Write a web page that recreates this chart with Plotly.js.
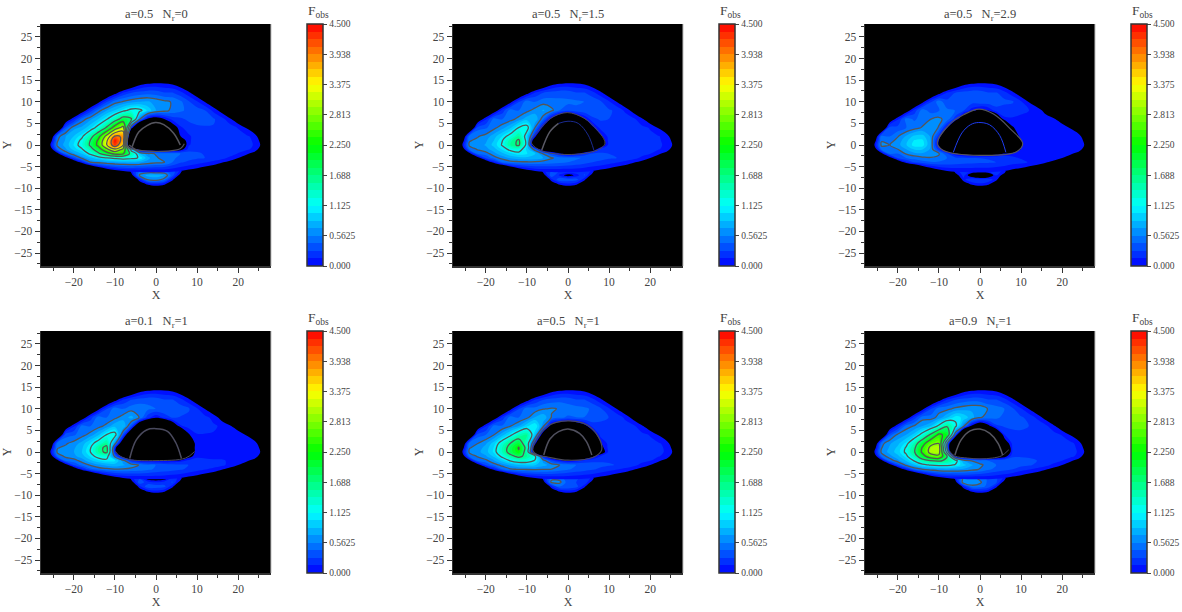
<!DOCTYPE html>
<html><head><meta charset="utf-8">
<script src="https://cdn.plot.ly/plotly-3.0.1.min.js"></script>
<style>html,body{margin:0;padding:0;background:#fff}#c{width:1182px;height:612px}</style>
</head><body><div id="c"></div>
<script>
const gridX=[-26,-24,-22,-20,-18,-16,-14,-12,-10,-8,-6,-4,-2,0,2,4,6,8,10,12,14,16,18,20,22,24,26];
const gridY=[16,14,12,10,8,6,4,2,1,0,-1,-2,-3,-4,-6,-8];
const lensX=[-8,-6,-4,-2,0,2,4,6,8];
const lensY=[-6,-7,-8,-9,-10];
// shared outer rim of the disk image, signed: negative = outside the image
const r16=[-1.2,-1.2,-1.2,-1.2,-1.2,-1.2,-1.2,-1.2,-1.2,-1,-.8,-.6,-.5,-.34,-.3,-.3,-.4,-.55,-.73,-.91,-1.1,-1.2,-1.2,-1.2,-1.2,-1.2,-1.2];
const r14=[-1.2,-1.2,-1.2,-1.2,-1.2,-1.2,-1.2,-.92,-.66,-.42,-.2,-.03,.04,.06,.04,0,-.1,-.25,-.43,-.6,-.8,-1,-1.2,-1.2,-1.2,-1.2,-1.2];
const r12=[-1.2,-1.2,-1.2,-1.2,-1.2,-1,-.66,-.33,-.06,.18,.3,.35,.38,.36,.3,.3,.2,.05,-.13,-.32,-.5,-.68,-.87,-1,-1.2,-1.2,-1.2];
const rm6=[-1.2,-1.2,-1.2,-1.2,-1.2,-1,-.5,-.23,-.08,0,.03,.04,.05,.05,.05,.03,0,-.05,-.09,-.15,-.21,-.29,-.36,-.45,-.55,-.68,-1];
const rm8=[-1.2,-1.2,-1.2,-1.2,-1.2,-1.2,-1,-.8,-.6,-.4,-.3,-.28,-.26,-.26,-.26,-.28,-.3,-.35,-.39,-.45,-.51,-.59,-.66,-.75,-.85,-.98,-1.2];
const L10=[-1.2,-1.2,-1.2,-1.08,-.76,-.4,-.06,.27,.5], R10=[.3,.16,-.015,-.2,-.38,-.57,-.75,-.9,-1.1,-1.2];
const L8=[-1.2,-1.2,-.84,-.48,-.16,.2,.5], R8=[.1,-.08,-.27,-.45,-.6,-.8,-1];
const L6=[-1.2,-.9,-.24,.12,.48], R6=[.03,-.15,-.3,-.5,-.85];
const L4=[-.9,-.5,.36], R4=[.13,-.015,-.2,-.55];
const L2=[-.5,.5], R2=[.09,-.22];
const L1=[-.25,.55], R1=[.12,-.1];
const L0=[-.1,.6], R0=[.13,-.06];
const Lm1=[-.3,.45], Rm1=[.1,-.15];
const Lm2=[-.6,-.1,.45], Rm2=[.03,-.08,-.35];
const Lm3=[-1,-.4,-.15,.3], Rm3=[0,-.1,-.22,-.5];
const Lm4=[-1.2,-.7,-.45,-.3,.1], Rm4=[.015,-.06,-.15,-.25,-.38,-.7];
const lm10=[-.8,-.8,-.45,-.22,-.15,-.22,-.45,-.8,-.8];

const midA=[[.58,.65,.7,.72,.66,.6,.55,.45],
[.7,.85,1.05,1.22,1.2,.95,.7,.62,.52,.45,.38,.35,.28],
[.66,.85,1.1,1.45,1.9,1.75,.6,-.08,-.175,0,.2,.25,.32,.33,.32,.3,.2],
[.66,.74,.95,1.25,1.75,2.5,3.0,.2,-1.1,-1.2,-1.2,-1,-.2,.12,.2,.26,.27,.27,.26,.22],
[.7,.85,1.08,1.5,2.1,3.0,4.0,3.9,-2,-1.2,-1.2,-1.2,-1.2,-1.2,0,.12,.2,.24,.25,.25,.23,.21,.17],
[.72,.95,1.2,1.7,2.35,3.3,4.45,3.7,-2.5,-1.2,-1.2,-1.2,-1.2,-1.2,-.2,.12,.2,.24,.25,.25,.23,.21,.18],
[.75,1.0,1.25,1.75,2.4,3.35,4.3,3.4,-2.5,-1.2,-1.2,-1.2,-1.2,-1.2,-.3,.13,.2,.24,.25,.25,.23,.21,.18],
[.68,.9,1.1,1.5,2.0,2.7,3.3,2.7,.9,-.25,-.25,-.25,-.25,-.25,-.1,.2,.25,.26,.26,.25,.23,.21,.17],
[.68,.85,1.2,1.6,2.0,2.4,2.3,1.5,.85,.6,.55,.5,.48,.42,.36,.3,.27,.26,.25,.22,.13],
[.62,.8,.95,1.12,1.2,1.25,1.2,1.1,.75,.58,.52,.45,.38,.33,.3,.28,.25,.2,.1],
[.55,.62,.68,.72,.75,.75,.72,.65,.6,.57,.42,.3,.25,.2,.15,.1]];
const lensA=[[-.5,.1,.4,.42,.42,.42,.38,.1,-.5],[-.5,-.12,.6,.75,.75,.7,.35,-.12,-.5],[-.6,-.4,.1,.6,.65,.5,.05,-.4,-.6],[-.8,-.6,-.15,.05,.12,.05,-.2,-.6,-.8],lm10];

const midB=[[.42,.5,.48,.45,.45,.45,.42,.38],
[.42,.52,.62,.72,.6,.42,.35,.38,.4,.38,.33,.3,.25],
[.42,.5,.62,.78,.82,.45,-.07,-.5,-1.05,-.38,-.02,.25,.3,.28,.26,.24,.17],
[.4,.52,.65,.82,1.14,1.25,.55,-.1,-1,-1.2,-1.2,-1.2,-1,-.05,.2,.22,.22,.22,.2,.18],
[.55,.62,.78,1.0,1.25,1.55,.95,.08,-1,-1.2,-1.2,-1.2,-1.2,-1.2,-1,-.05,.2,.21,.21,.2,.19,.17,.15],
[.6,.68,.85,1.12,1.5,1.75,1.0,-.5,-1.5,-1.2,-1.2,-1.2,-1.2,-1.2,-1,-.2,.2,.21,.21,.2,.19,.17,.15],
[.63,.72,.9,1.15,1.55,1.75,1.0,-.6,-1.5,-1.2,-1.2,-1.2,-1.2,-1.2,-1,-.2,.2,.21,.21,.2,.19,.17,.15],
[.58,.65,.78,1.0,1.2,1.25,.95,.45,-.3,-.5,-.8,-1,-.8,-.5,-.2,.2,.22,.22,.21,.2,.19,.17,.15],
[.5,.65,.8,.95,1.05,1.0,.85,.55,.3,.05,-.1,0,.2,.3,.3,.28,.26,.25,.23,.2,.15],
[.5,.62,.72,.78,.8,.78,.7,.58,.5,.48,.45,.4,.35,.33,.3,.28,.24,.2,.1],
[.42,.5,.52,.53,.53,.5,.48,.45,.42,.38,.33,.28,.25,.2,.15,.1]];
const lensB=[[-.5,.1,.3,.3,.3,.3,.25,.1,-.5],[-.5,-.12,.4,.1,-.1,.05,.3,-.12,-.5],[-.6,-.4,.1,.4,.38,.35,.05,-.4,-.6],[-.8,-.6,-.15,.05,.12,.05,-.2,-.6,-.8],lm10];

const midC=[[.32,.32,.33,.35,.38,.38,.36,.32],
[.36,.42,.45,.42,.3,.06,-.07,.01,.22,.2,.18,.16,.14],
[.4,.48,.56,.6,.5,.2,-.4,-1,-1,-1,-.4,.12,.13,.12,.11,.11,.1],
[.33,.42,.5,.58,.65,.55,.02,-1,-1.2,-1.2,-1.2,-1.2,-1.2,-1,-.02,.11,.1,.1,.1,.1],
[.42,.55,.72,.88,.9,.68,.2,-.8,-1.2,-1.2,-1.2,-1.2,-1.2,-1.2,-1.2,-.3,.1,.1,.1,.1,.1,.1,.1],
[.5,.62,.8,1.0,1.02,.7,-.03,-1,-1.2,-1.2,-1.2,-1.2,-1.2,-1.2,-1.2,-.9,-.01,.1,.1,.1,.1,.1,.1],
[.56,.65,.83,1.05,1.05,.7,-.05,-1,-1.2,-1.2,-1.2,-1.2,-1.2,-1.2,-1.2,-.9,-.03,.1,.1,.1,.1,.1,.1],
[.45,.56,.7,.85,.85,.68,.2,-.4,-.8,-.9,-1,-1,-1,-.9,-.8,-.5,.03,.1,.1,.1,.1,.1,.1],
[.42,.58,.66,.68,.65,.58,.3,.03,-.1,-.15,-.2,-.15,-.1,.03,.1,.1,.1,.1,.1,.1,.1],
[.42,.48,.53,.55,.53,.42,.32,.3,.28,.28,.27,.27,.25,.16,.13,.13,.12,.11,.08],
[.3,.36,.4,.4,.38,.35,.33,.32,.3,.3,.28,.25,.2,.18,.13,.08]];
const lensC=[[-.5,.1,.2,.2,.2,.2,.2,.1,-.5],[-.5,-.12,.2,-.2,-.4,-.25,.15,-.12,-.5],[-.6,-.4,.1,.28,.25,.25,.05,-.4,-.6],[-.8,-.6,-.15,.05,.12,.05,-.2,-.6,-.8],lm10];

const midD=[[.42,.5,.52,.46,.42,.42,.4,.35],
[.42,.52,.63,.75,.55,.2,.03,.18,.3,.27,.24,.22,.18],
[.42,.5,.62,.8,.85,.35,-.5,-.8,-1,-.8,-.3,.12,.2,.22,.2,.16,.12],
[.4,.5,.62,.82,1.14,1.25,.35,-.6,-1.2,-1.2,-1.2,-1.2,-1.2,-.8,-.02,.13,.13,.13,.13,.12],
[.54,.62,.76,1.0,1.3,1.55,.65,-.4,-1.2,-1.2,-1.2,-1.2,-1.2,-1.2,-1,-.3,.12,.12,.12,.12,.12,.12,.12],
[.6,.68,.82,1.1,1.55,1.8,.15,-1,-1.2,-1.2,-1.2,-1.2,-1.2,-1.2,-1.2,-.3,.12,.12,.12,.12,.12,.12,.12],
[.63,.7,.85,1.12,1.55,1.78,.12,-1,-1.2,-1.2,-1.2,-1.2,-1.2,-1.2,-1.2,-.3,.12,.12,.12,.12,.12,.12,.12],
[.6,.66,.78,1.0,1.25,1.25,.5,-.2,-.6,-.8,-1,-1,-1,-.8,-.7,-.1,.12,.12,.12,.12,.12,.12,.12],
[.5,.62,.8,.95,1.05,1.0,.65,.2,.02,-.02,-.03,-.02,.02,.08,.18,.18,.16,.15,.15,.13,.1],
[.48,.58,.68,.74,.78,.72,.65,.55,.45,.42,.38,.33,.3,.28,.27,.25,.22,.18,.09],
[.38,.48,.52,.55,.55,.52,.5,.45,.4,.36,.33,.3,.25,.2,.15,.1]];
const lensD=[[-.5,.1,.25,-.15,-.2,-.15,.2,.1,-.5],[-.5,-.12,.38,.2,.15,.2,.3,-.12,-.5],[-.6,-.4,.1,.38,.36,.33,.05,-.4,-.6],[-.8,-.6,-.15,.05,.12,.05,-.2,-.6,-.8],lm10];

const midE=[[.47,.55,.58,.55,.5,.48,.45,.4],
[.42,.52,.72,.8,.55,.45,.4,.42,.42,.38,.3,.28,.24],
[.44,.56,.7,.95,1.12,.6,-.18,-.37,-.6,-.34,-.1,.2,.26,.26,.24,.22,.17],
[.42,.56,.78,1.05,1.4,1.55,.85,-.3,-1.2,-1.2,-1.2,-1.2,-1.2,-.2,.22,.22,.2,.2,.2,.18],
[.56,.68,.92,1.3,1.7,2.0,1.35,.1,-1.2,-1.2,-1.2,-1.2,-1.2,-1.2,-1.2,-.02,.2,.2,.2,.2,.2,.18,.16],
[.62,.76,1.0,1.42,1.88,2.28,1.5,-.4,-1.5,-1.2,-1.2,-1.2,-1.2,-1.2,-1.2,-.1,.2,.2,.2,.2,.19,.18,.17],
[.66,.78,1.02,1.42,1.88,2.22,1.4,-.5,-1.5,-1.2,-1.2,-1.2,-1.2,-1.2,-1.2,-.2,.2,.2,.2,.19,.18,.17,.16],
[.58,.68,.88,1.2,1.55,1.8,1.55,1.2,.1,-.3,-.5,-.7,-.5,-.3,-.05,.17,.2,.2,.19,.18,.17,.16,.15],
[.52,.68,.9,1.15,1.3,1.28,1.1,.65,.3,.1,-.02,.08,.2,.25,.26,.26,.25,.23,.21,.19,.15],
[.5,.62,.74,.84,.88,.86,.75,.65,.56,.5,.42,.36,.33,.32,.3,.27,.24,.19,.09],
[.42,.54,.57,.58,.58,.57,.56,.5,.44,.38,.34,.3,.25,.2,.15,.1]];
const lensE=[[-.5,.1,.5,.5,.3,.3,.25,.1,-.5],[-.5,-.12,.62,.6,.35,.28,.28,-.12,-.5],[-.6,-.4,.1,.42,.4,.35,.05,-.4,-.6],[-.8,-.6,-.15,.05,.12,.05,-.2,-.6,-.8],lm10];

const midF=[[.52,.6,.65,.68,.68,.55,.48,.42],
[.48,.62,.82,1.05,.95,.75,.58,.5,.45,.38,.33,.3,.24],
[.58,.7,.85,1.2,1.65,1.2,.6,-.08,-.39,-.09,.25,.3,.32,.3,.28,.26,.18],
[.6,.7,.9,1.25,1.75,2.35,2.1,.35,-1.2,-1.2,-1.2,-1.2,-.5,.15,.22,.26,.27,.26,.25,.2],
[.68,.8,1.02,1.45,2.05,2.65,2.8,.55,-1.2,-1.2,-1.2,-1.2,-1.2,-1.2,-.2,.2,.24,.26,.26,.25,.24,.22,.18],
[.72,.88,1.15,1.6,2.3,2.95,3.05,.5,-1.5,-1.2,-1.2,-1.2,-1.2,-1.2,-.5,.2,.24,.26,.26,.25,.24,.22,.18],
[.75,.92,1.18,1.65,2.35,3.0,3.0,.9,-1.5,-1.2,-1.2,-1.2,-1.2,-1.2,-.5,.2,.24,.26,.26,.25,.24,.22,.18],
[.65,.8,1.05,1.45,2.05,2.55,2.7,1.7,-.1,-.35,-.4,-.45,-.4,-.3,-.1,.25,.27,.27,.26,.25,.24,.22,.18],
[.66,.85,1.15,1.5,1.7,1.75,1.6,1.25,.7,.55,.45,.42,.4,.4,.38,.33,.3,.28,.26,.22,.14],
[.62,.82,1.05,1.15,1.2,1.2,1.1,.9,.72,.6,.5,.42,.38,.36,.33,.3,.25,.2,.09],
[.45,.56,.64,.7,.72,.7,.68,.62,.55,.45,.38,.33,.28,.2,.15,.1]];
const lensF=[[-.5,.1,.6,.65,.5,.4,.3,.1,-.5],[-.5,-.12,.7,.7,.6,.38,.3,-.12,-.5],[-.6,-.4,.1,.5,.48,.38,.05,-.4,-.6],[-.8,-.6,-.15,.05,.12,.05,-.2,-.6,-.8],lm10];

const arcAX=[-5.8,-4.2,-2.2,-.1,1.9,4.3,5.9], arcAY=[-.4,3,4.5,5.2,4.7,2.7,0];
const arcBX=[-6.4,-4.4,-2.3], arcBY=[-1.2,3.1,5];
const arcBX2=[-2.3,0,2.5,4.9,6.3], arcBY2=[5,5.5,5,2.3,-1.2];
const arcCX=[-6.5,-4.4,-2.3,-.4,2.3,4.8,6.3], arcCY=[-1.7,2.8,4.7,5.2,4.7,2.2,-1.7];
const arcDX=[-6.4,-4.8,-2.3,0,2.8,4.8,6.2], arcDY=[-1.5,2.8,5.1,5.4,4.8,2.2,-1.5];
const arcEX=[-5.9,-4.4,-2.3,0,2.8,4.5,5.8], arcEY=[-.7,3,4.7,5.3,4.3,2.4,-.7];
const arcFX=[-6.1,-4.6,-2.4,0,2.4,4.4,5.5], arcFY=[-.7,2.8,4.9,5.3,4.3,2,-.7];

const holeAX=[-6.5,-5,-2,0,3,6,6.9], holeAY=[0,-1,-1.4,-1.5,-1.4,-.8,.3];
const holeBX=[-9,-7,-4.2,-.2,3.9,7.1,9,7.1,0,-6.8,-9], holeBY=[.8,3.5,6.2,7.5,6.2,3.5,.4,-1.2,-2.2,-1.2,.8];
const holeCX=[-10.4,-7.3,-4,-.3,3.4,7.5,10.4,9,0,-9,-10.4], holeCY=[.4,4.9,7,8.3,7.1,3.6,.4,-1.5,-2.4,-1.2,.4];
const holeDX=[-9.9,-9.1,-6.7,0,7.2,9.4], holeDY=[.2,-.7,-1.7,-2,-1.4,.1];
const holeEX=[-8.6,-6.9,-4.4,0,4.6,7.4,8.2,6.2,0,-5.2,-7.4,-8.6], holeEY=[.5,4,6.3,7.2,6.3,3.5,.5,-1.2,-1.9,-1.1,-.7,.5];
const holeFX=[-7.5,-6.2,-3,0,3,5.2,7], holeFY=[.3,-.9,-1.4,-1.6,-1.4,-.9,.5];

const cbarVals=[0,.5625,1.125,1.6875,2.25,2.8125,3.375,3.9375,4.5];
const cbarText=['0.000','0.5625','1.125','1.688','2.250','2.813','3.375','3.938','4.500'];
const panelTitles=['a=0.5 &nbsp; N<sub>r</sub>=0','a=0.5 &nbsp; N<sub>r</sub>=1.5','a=0.5 &nbsp; N<sub>r</sub>=2.9','a=0.1 &nbsp; N<sub>r</sub>=1','a=0.5 &nbsp; N<sub>r</sub>=1','a=0.9 &nbsp; N<sub>r</sub>=1'];

const W=1182,H=612,FONT='"Liberation Serif",serif',step=.140625;
function assemble(m){return [r16,r14,r12,[...L10,...m[0],...R10],[...L8,...m[1],...R8],[...L6,...m[2],...R6],[...L4,...m[3],...R4],[...L2,...m[4],...R2],[...L1,...m[5],...R1],[...L0,...m[6],...R0],[...Lm1,...m[7],...Rm1],[...Lm2,...m[8],...Rm2],[...Lm3,...m[9],...Rm3],[...Lm4,...m[10],...Rm4],rm6,rm8];}
const jetStops=[[0,[0,0,255]],[.25,[0,255,255]],[.5,[0,255,0]],[.75,[255,255,0]],[1,[255,0,0]]];
function jet(t){for(let i=1;i<jetStops.length;i++){if(t<=jetStops[i][0]){const a=jetStops[i-1],b=jetStops[i],f=(t-a[0])/(b[0]-a[0]);
 return 'rgb('+a[1].map((v,k)=>Math.round(v+(b[1][k]-v)*f)).join(',')+')';}}return 'rgb(255,0,0)';}
const fieldScale=[[0,'rgba(0,0,0,0)']];
for(let i=0;i<33;i++)fieldScale.push([(i+1)/33,jet(Math.min(1,(i+.5)/32))]);
const barScale=[];
for(let i=0;i<32;i++){const c=jet((i+.5)/32);barScale.push([i/32,c],[(i+1)/32,c]);}
const up=a=>a.slice().reverse();

const panels=[
 {z:assemble(midA),l:lensA,arcs:[[arcAX,arcAY,'#56565f',1.5]],hole:[holeAX,holeAY,'#50505a',1.2],c:0,r:0},
 {z:assemble(midB),l:lensB,arcs:[[arcBX,arcBY,'#5a5a66',1.5],[arcBX2,arcBY2,'#1a2a90',1]],hole:[holeBX,holeBY,'#4a4a5a',1],c:1,r:0},
 {z:assemble(midC),l:lensC,arcs:[[arcCX,arcCY,'#1e3cf0',1]],hole:[holeCX,holeCY,'#555560',1.2],c:2,r:0},
 {z:assemble(midD),l:lensD,arcs:[[arcDX,arcDY,'#4a4a5e',1.5]],hole:[holeDX,holeDY,'#4a4a5a',1],c:0,r:1},
 {z:assemble(midE),l:lensE,arcs:[[arcEX,arcEY,'#50505e',1.5]],hole:[holeEX,holeEY,'#4a4a5a',1.2],c:1,r:1},
 {z:assemble(midF),l:lensF,arcs:[[arcFX,arcFY,'#56565f',1.5]],hole:[holeFX,holeFY,'#4a4a5a',1],c:2,r:1}
];
const lefts=[41,453,865],tops=[24,331],pw=230,ph=242,cbLefts=[307,719,1131];
const traces=[],layout={width:W,height:H,margin:{l:0,r:0,t:0,b:0},paper_bgcolor:'#fff',plot_bgcolor:'#000',showlegend:false,annotations:[],shapes:[],font:{family:FONT,color:'#444',size:11}};
panels.forEach((p,i)=>{
 const n=i?i+1:'',xa='x'+n,ya='y'+n,L=lefts[p.c],T=tops[p.r];
 const fill=(x,y,z)=>({type:'contour',x:x,y:up(y),z:up(z),xaxis:xa,yaxis:ya,autocontour:false,autocolorscale:false,colorscale:fieldScale,showscale:false,hoverinfo:'skip',
   contours:{coloring:'fill',showlines:false,start:0,end:4.5,size:step},line:{width:0,smoothing:1}});
 const iso=(x,y,z)=>({type:'contour',x:x,y:up(y),z:up(z),xaxis:xa,yaxis:ya,autocontour:false,showscale:false,hoverinfo:'skip',
   contours:{coloring:'none',showlines:true,start:.5625,end:3.9375,size:.5625},line:{color:'#565656',width:1.3,smoothing:1}});
 traces.push(fill(lensX,lensY,p.l),iso(lensX,lensY,p.l),fill(gridX,gridY,p.z),iso(gridX,gridY,p.z));
 p.arcs.forEach(a=>traces.push({type:'scatter',mode:'lines',x:a[0],y:a[1],xaxis:xa,yaxis:ya,hoverinfo:'skip',line:{color:a[2],width:a[3],shape:'spline',smoothing:1}}));
 traces.push({type:'scatter',mode:'lines',x:p.hole[0],y:p.hole[1],xaxis:xa,yaxis:ya,hoverinfo:'skip',line:{color:p.hole[2],width:p.hole[3],shape:'spline',smoothing:1}});
 traces.push({type:'heatmap',x:[100,101],y:[100,101],z:[[0,4.5],[0,4.5]],xaxis:xa,yaxis:ya,zmin:0,zmax:4.5,colorscale:barScale,hoverinfo:'skip',
   colorbar:{x:cbLefts[p.c]/W,xanchor:'left',y:1-T/H,yanchor:'top',lenmode:'pixels',len:ph,thicknessmode:'pixels',thickness:16,xpad:0,ypad:0,outlinecolor:'#333',outlinewidth:1.5,
     tickmode:'array',tickvals:cbarVals,ticktext:cbarText,ticks:'outside',ticklen:4,tickwidth:1,tickcolor:'#444',tickfont:{family:FONT,size:9.5,color:'#444'}}});
 const common={range:[-28,28],fixedrange:true,zeroline:false,showgrid:false,showline:true,linecolor:'#333',linewidth:1.5,ticks:'outside',tickcolor:'#333',tickwidth:1,ticklen:5,tickfont:{family:FONT,size:11.5,color:'#444'},tick0:0};
 layout['xaxis'+n]=Object.assign({},common,{domain:[L/W,(L+pw)/W],anchor:ya,dtick:10,minor:{dtick:5,ticks:'outside',ticklen:3,tickcolor:'#333',showgrid:false},title:{text:'X',standoff:2,font:{family:FONT,size:12,color:'#444'}}});
 layout['yaxis'+n]=Object.assign({},common,{domain:[1-(T+ph)/H,1-T/H],anchor:xa,dtick:5,minor:{dtick:2.5,ticks:'outside',ticklen:3,tickcolor:'#333',showgrid:false},title:{text:'Y',standoff:0,font:{family:FONT,size:12,color:'#444'}}});
 layout.annotations.push({text:panelTitles[i],xref:'paper',yref:'paper',x:(L+pw/2)/W,y:1-(T-9)/H,xanchor:'center',yanchor:'middle',showarrow:false,font:{family:FONT,size:12.5,color:'#444'}});
 layout.annotations.push({text:'F<sub>obs</sub>',xref:'paper',yref:'paper',x:(cbLefts[p.c]-1)/W,y:1-(T-13)/H,xanchor:'left',yanchor:'middle',showarrow:false,font:{family:FONT,size:13.5,color:'#444'}});
 layout.shapes.push({type:'line',xref:'paper',yref:'paper',x0:(L+pw)/W,x1:(L+pw)/W,y0:1-(T+ph)/H,y1:1-T/H,line:{color:'#c0c0c0',width:1}});
});
Plotly.newPlot('c',traces,layout,{displayModeBar:false,staticPlot:true});
</script></body></html>
